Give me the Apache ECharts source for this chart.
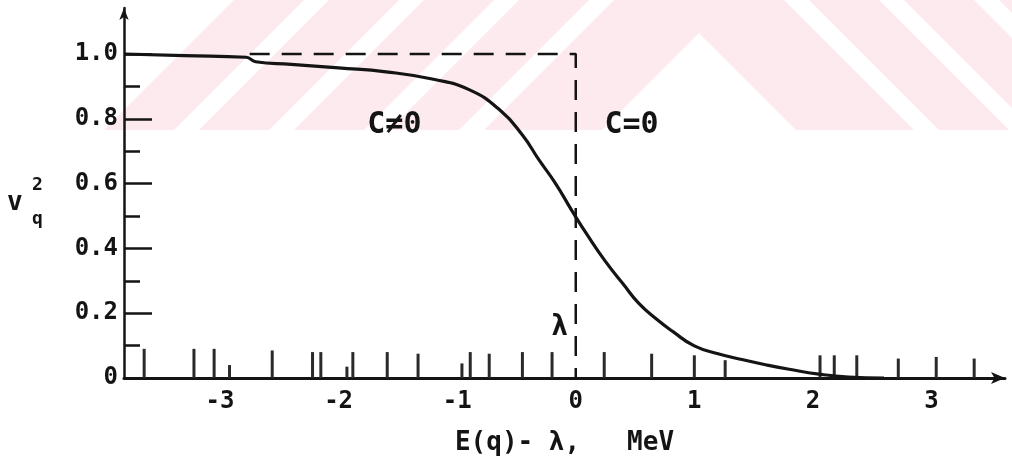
<!DOCTYPE html>
<html>
<head>
<meta charset="utf-8">
<script src="https://cdn.jsdelivr.net/npm/echarts@6/dist/echarts.min.js"></script>
<style>
html,body{margin:0;padding:0;background:#fff;}
#c{width:1012px;height:461px;}
</style>
</head>
<body>
<div id="c"></div>
<script>
// ---- data ----
// smooth curve v^2 (C != 0): energy E(q)-lambda (MeV) and occupation v^2
const curveE = [-3.81, -3.3, -2.78, -2.7, -2.4, -2.0, -1.6, -1.2, -0.9, -0.64, -0.45, -0.31, -0.17, -0.03, 0.1, 0.25, 0.4, 0.53, 0.68, 0.82, 1.0, 1.2, 1.4, 1.6, 1.8, 2.05, 2.3, 2.6];
const curveV = [1.0, 0.995, 0.99, 0.976, 0.968, 0.957, 0.945, 0.922, 0.89, 0.827, 0.75, 0.673, 0.6, 0.515, 0.44, 0.36, 0.29, 0.231, 0.182, 0.143, 0.099, 0.075, 0.057, 0.041, 0.027, 0.012, 0.003, 0.0];
// sharp step (C = 0)
const stepE = [-2.75, 0, 0];
const stepV = [1.0, 1.0, 0.0];
// single-particle levels (stick positions and heights)
const levelE = [-3.64, -3.22, -3.05, -2.92, -2.56, -2.22, -2.15, -1.93, -1.88, -1.59, -1.33, -0.96, -0.89, -0.73, -0.45, -0.20, 0.24, 0.64, 1.00, 1.26, 2.06, 2.18, 2.37, 2.72, 3.04, 3.36];
const levelH = [0.09, 0.09, 0.09, 0.04, 0.085, 0.08, 0.08, 0.035, 0.08, 0.08, 0.075, 0.045, 0.08, 0.075, 0.08, 0.08, 0.08, 0.075, 0.07, 0.055, 0.07, 0.07, 0.07, 0.06, 0.065, 0.06];
// tick labels
const xTicks = [-3, -2, -1, 0, 1, 2, 3];
const yTicks = [0, 0.2, 0.4, 0.6, 0.8, 1.0];
const yMinorTicks = [0.1, 0.3, 0.5, 0.7, 0.9];
// annotations
const notes = [
  {E: -1.53, v: 0.78, text: 'C≠0', size: 30},
  {E: 0.47, v: 0.78, text: 'C=0', size: 30},
  {E: -0.135, v: 0.154, text: 'λ', size: 28}
];
const xTitle = 'E(q)- λ,   MeV';

const INK = '#141414';
const PINK = '#fdeaee';
const FONT = '"DejaVu Sans Mono", monospace';

// faint scanned watermark (decoration only, behind the chart)
function band(x0, w, dir) { // 45-degree stripe, bottom at y=130, top at y=0
  const s = dir === '/' ? 130 : -130;
  return {type: 'polygon', silent: true, z: -10,
    shape: {points: [[x0, 130], [x0 + w, 130], [x0 + w + s, 0], [x0 + s, 0]]},
    style: {fill: PINK}};
}
const watermark = [
  band(104, 70, '/'), band(199, 70, '/'), band(294, 70, '/'), band(389, 70, '/'),
  {type: 'polygon', silent: true, z: -10,
    shape: {points: [[484, 130], [614, 0], [784, 0], [914, 130], [796, 130], [699, 33], [602, 130]]},
    style: {fill: PINK}},
  band(939, 70, '\\'), band(1034, 70, '\\'), band(1129, 70, '\\')
];

const chart = echarts.init(document.getElementById('c'), null, {renderer: 'canvas'});
chart.setOption({
  backgroundColor: '#ffffff',
  animation: false,
  grid: {left: 124, right: 7, top: 8, bottom: 83, containLabel: false},
  xAxis: {
    type: 'value', min: -3.81, max: 3.62,
    axisLine: {show: true, onZero: false, lineStyle: {color: INK, width: 3}, symbol: ['none', 'arrow'], symbolSize: [9, 14]},
    axisTick: {show: false},
    splitLine: {show: false},
    axisLabel: {
      customValues: xTicks, margin: 12, color: INK,
      fontFamily: FONT, fontWeight: 'bold', fontSize: 24
    },
    name: xTitle, nameLocation: 'middle', nameGap: 52,
    nameTextStyle: {color: INK, fontFamily: FONT, fontWeight: 'bold', fontSize: 26}
  },
  yAxis: [{
    type: 'value', min: 0, max: 1.142,
    axisLine: {show: true, onZero: false, lineStyle: {color: INK, width: 2.5}, symbol: ['none', 'arrow'], symbolSize: [7, 12]},
    axisTick: {show: true, inside: true, length: 28, customValues: yTicks, lineStyle: {color: INK, width: 2.5}},
    splitLine: {show: false},
    axisLabel: {
      customValues: yTicks, margin: 6, color: INK,
      fontFamily: FONT, fontWeight: 'bold', fontSize: 24,
      formatter: v => v === 0 ? '0' : v.toFixed(1)
    }
  }, {
    type: 'value', min: 0, max: 1.142, position: 'left',
    axisLine: {show: false, onZero: false},
    axisTick: {show: true, inside: true, length: 16, customValues: yMinorTicks, lineStyle: {color: INK, width: 2.5}},
    splitLine: {show: false},
    axisLabel: {show: false}
  }],
  series: [
    {
      type: 'bar', name: 'levels', barWidth: 3, yAxisIndex: 0,
      itemStyle: {color: '#2a2a2a'},
      data: levelE.map((e, i) => [e, levelH[i]]),
      z: 2
    },
    {
      type: 'line', name: 'C=0', showSymbol: false, symbol: 'none',
      lineStyle: {color: INK, width: 2.5, type: [20, 12]},
      data: stepE.map((e, i) => [e, stepV[i]]),
      z: 3
    },
    {
      type: 'line', name: 'C≠0', showSymbol: false, symbol: 'none', smooth: 0.5,
      lineStyle: {color: INK, width: 3.2},
      data: curveE.map((e, i) => [e, curveV[i]]),
      z: 4
    },
    {
      type: 'scatter', name: 'notes', symbolSize: 0, silent: true,
      itemStyle: {opacity: 1},
      data: notes.map(n => ({
        value: [n.E, n.v],
        label: {show: true, position: 'inside', formatter: n.text, color: INK, opacity: 1,
          fontFamily: FONT, fontWeight: 'bold', fontSize: n.size}
      })),
      z: 5
    }
  ],
  graphic: watermark.concat([
    {type: 'text', left: 7, top: 190, style: {text: 'v', font: 'bold 26px "DejaVu Sans Mono"', fill: INK}},
    {type: 'text', left: 32, top: 176, style: {text: '2', font: 'bold 18px "DejaVu Sans Mono"', fill: INK}},
    {type: 'text', left: 32, top: 210, style: {text: 'q', font: 'bold 18px "DejaVu Sans Mono"', fill: INK}}
  ])
});
</script>
</body>
</html>
